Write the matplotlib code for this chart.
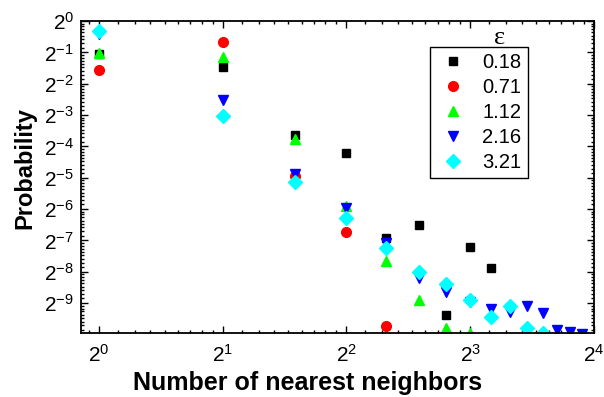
import numpy as np
import matplotlib
matplotlib.use("Agg")
import matplotlib.pyplot as plt
from matplotlib.ticker import FixedLocator, FuncFormatter, NullFormatter

plt.rcParams['font.family'] = 'Liberation Sans'
plt.rcParams['mathtext.fontset'] = 'custom'
plt.rcParams['mathtext.rm'] = 'Liberation Sans'
plt.rcParams['mathtext.it'] = 'Liberation Sans:italic'

# number of nearest neighbors -> probability, one list per epsilon
eps_labels = ['0.18', '0.71', '1.12', '2.16', '3.21']
p_018 = [0.485, 0.358, 0.0813, 0.0544, 0.0083, 0.0110, 0.00150, 0.00680, 0.00421]
p_071 = [0.336, 0.626, 0.0324, 0.0095, 0.00119]
p_112 = [0.491, 0.447, 0.0743, 0.0169, 0.00494, 0.00211, 0.00113, 0.00102]
p_216 = [0.753, 0.173, 0.0342, 0.0161, 0.00739, 0.00338, 0.00251, 0.00201,
         0.00171, 0.00162, 0.00185, 0.00158, 0.00108, 0.00104, 0.00099]
p_321 = [0.798, 0.1225, 0.0286, 0.0129, 0.00661, 0.00386, 0.00298, 0.00210,
         0.00144, 0.00183, 0.00112, 0.00100]

series = [p_018, p_071, p_112, p_216, p_321]
markers = ['s', 'o', '^', 'v', 'D']
colors = ['black', '#ff0000', '#00ff00', '#0000ff', '#00ffff']
sizes = [6.2, 7, 7.5, 7.5, 7]

fig = plt.figure(figsize=(6.04, 3.97), dpi=100)
ax = fig.add_axes([81/604, 1-333/397, (594-81)/604, (333-21)/397])
ax.set_xscale('log', base=2)
ax.set_yscale('log', base=2)

for vals, m, c, s, lab in zip(series, markers, colors, sizes, eps_labels):
    n = np.arange(1, len(vals) + 1)
    ax.plot(n, vals, ls='none', marker=m, color=c, ms=s, mec=c, label=lab)

ax.set_xlim(2**-0.145, 16)
ax.set_ylim(2**-9.95, 1)

pow_fmt = FuncFormatter(lambda v, pos: r'$\mathregular{2^{%d}}$' % int(round(np.log2(v))))
ax.xaxis.set_major_locator(FixedLocator([1, 2, 4, 8, 16]))
ax.yaxis.set_major_locator(FixedLocator([2.0**-k for k in range(0, 10)]))
ax.xaxis.set_major_formatter(pow_fmt)
ax.yaxis.set_major_formatter(pow_fmt)

xminor = [2.0**e * (1 + k/9) for e in range(-1, 4) for k in range(1, 9)]
yminor = [2.0**e * (1 + k/9) for e in range(-11, 0) for k in range(1, 9)]
ax.xaxis.set_minor_locator(FixedLocator(xminor))
ax.yaxis.set_minor_locator(FixedLocator(yminor))
ax.xaxis.set_minor_formatter(NullFormatter())
ax.yaxis.set_minor_formatter(NullFormatter())

ax.tick_params(which='both', direction='in', top=True, right=True, width=1.0)
ax.tick_params(which='major', length=5, labelsize=15)
ax.tick_params(which='minor', length=2.5)
ax.tick_params(axis='x', which='major', pad=8)
ax.tick_params(axis='y', which='major', pad=5)
for sp in ax.spines.values():
    sp.set_linewidth(1.3)

ax.set_xlabel('Number of nearest neighbors', fontsize=18, fontweight='bold')
ax.set_ylabel('Probability', fontsize=17, fontweight='bold')
ax.xaxis.set_label_coords((308-81)/513, -(383-333)/312)
ax.yaxis.set_label_coords(-(81-25)/513, (333-168)/312)
ax.xaxis.label.set_va('center')
ax.yaxis.label.set_va('center')

leg = ax.legend(loc='upper left', bbox_to_anchor=(430/604, 1-47/397),
                bbox_transform=fig.transFigure, borderaxespad=0, fancybox=False,
                edgecolor='black', framealpha=1, fontsize=14.5, handlelength=1.7,
                handletextpad=0.6, labelspacing=0.3, borderpad=0.3)
leg.get_frame().set_linewidth(1.0)
fig.text(500/604, 1-38/397, 'ε', fontsize=19, family='Liberation Serif',
         ha='center', va='center')

fig.savefig('out.png', dpi=100)
